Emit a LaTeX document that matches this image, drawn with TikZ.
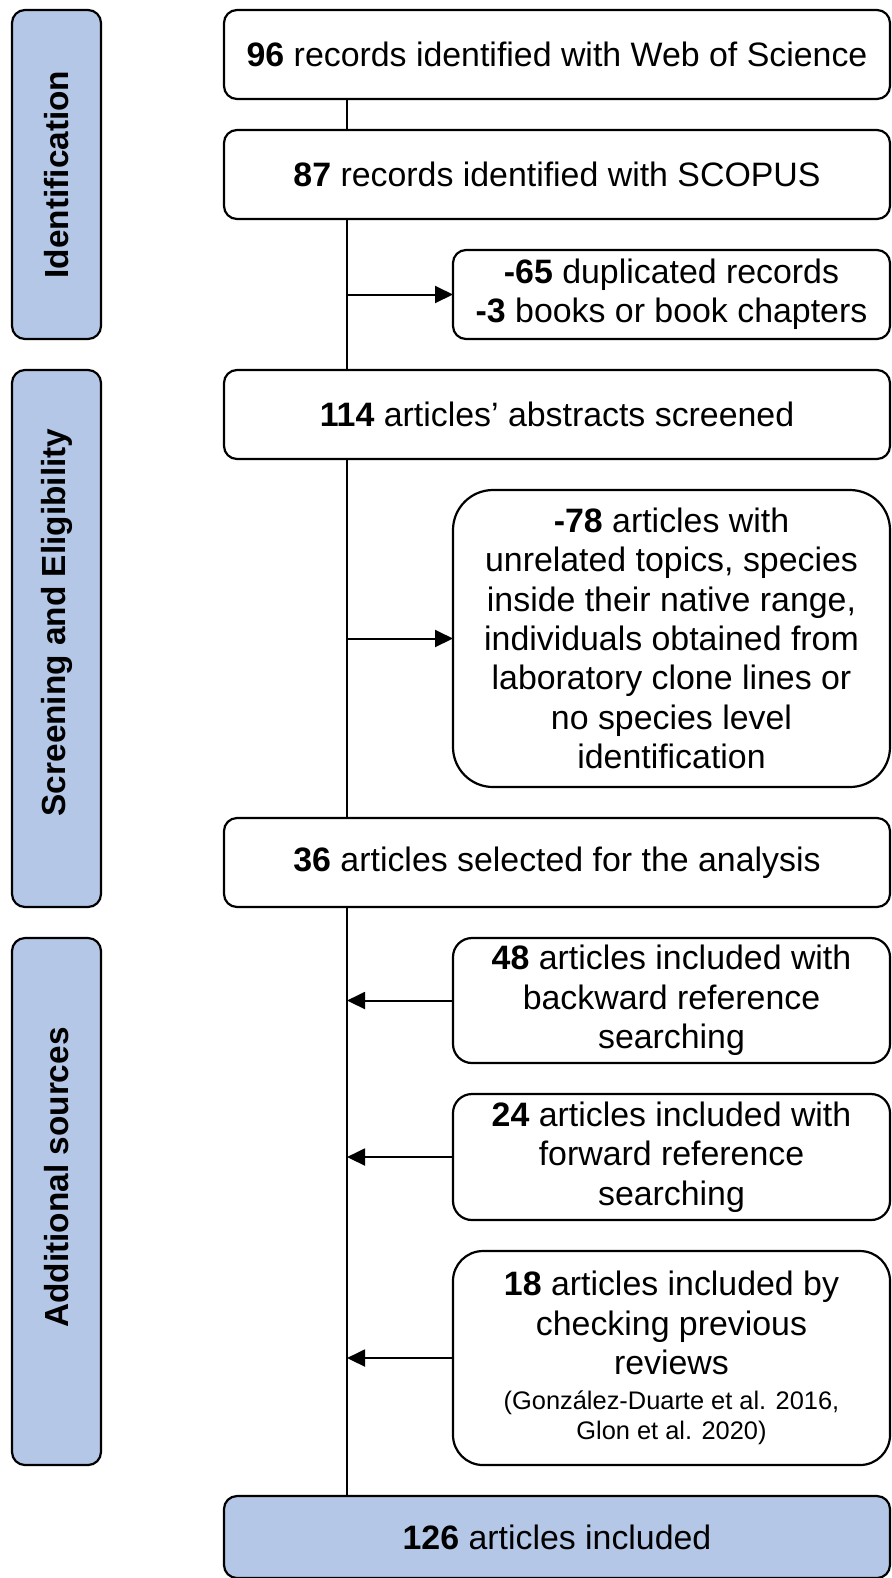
\documentclass[tikz,border=0pt]{standalone}
\usepackage{fontspec}
\setmainfont{Liberation Sans}
\usetikzlibrary{arrows.meta,positioning,fit}
\definecolor{phaseblue}{RGB}{180,199,231}

\begin{document}
\begin{tikzpicture}[
		x=1bp, y=-1bp,
		node distance=31bp and 0bp,
		font=\fontsize{34}{39.5}\selectfont,
		block/.style={rectangle, draw, fill=white, align=center, rounded corners=13bp, line width=2.2bp, minimum width=666bp, minimum height=89bp, inner sep=0pt, outer sep=0pt, anchor=north east},
		note/.style={block, minimum width=437bp},
		phase/.style={rectangle, draw, fill=phaseblue, rounded corners=13bp, line width=2.2bp, inner sep=0pt},
		phaselabel/.style={rotate=90, font=\fontsize{33.5}{39}\selectfont\bfseries},
		line/.style={draw, line width=2bp},
		arrow/.style={line, -{Triangle[length=18bp, width=17bp]}}
	]
	\useasboundingbox (0,0) rectangle (891,1578);

	% Boxes stacked from the top, all aligned on the right
	\node (wos) [block] at (890,10) {\textbf{96} records identified with Web of Science};
	\node (scopus) [block, below left=of wos.south east] {\textbf{87} records identified with SCOPUS};
	\node (dupl) [note, below left=of scopus.south east] {\textbf{-65} duplicated records\\\textbf{-3} books or book chapters};
	\node (screened) [block, below left=of dupl.south east] {\textbf{114} articles’ abstracts screened};
	\node (unrel) [note, below left=of screened.south east, minimum height=297bp, rounded corners=40bp] {\textbf{-78} articles with\\unrelated topics, species\\inside their native range,\\individuals obtained from\\laboratory clone lines or\\no species level\\identification};
	\node (selected) [block, below left=of unrel.south east] {\textbf{36} articles selected for the analysis};
	\node (backward) [note, below left=of selected.south east, minimum height=125bp, rounded corners=19bp] {\textbf{48} articles included with\\backward reference\\searching};
	\node (forward) [note, below left=of backward.south east, minimum height=126bp, rounded corners=19bp] {\textbf{24} articles included with\\forward reference\\searching};
	\node (reviews) [note, below left=of forward.south east, minimum height=214bp, rounded corners=30bp] {\textbf{18} articles included by\\checking previous\\reviews\\[-4.5bp]{\fontsize{25.5}{30}\selectfont(González-Duarte et al. 2016,}\\[-9.5bp]{\fontsize{25.5}{30}\selectfont Glon et al. 2020)}};
	\node (included) [block, below left=of reviews.south east, minimum height=82bp, fill=phaseblue] {\textbf{126} articles included};

	% Phase boxes on the left
	\coordinate (pl) at (12,0);
	\coordinate (pr) at (101,0);
	\node (ident) [phase, fit=(pl |- wos.north) (pr |- dupl.south)] {};
	\node (screen) [phase, fit=(pl |- screened.north) (pr |- selected.south)] {};
	\node (addit) [phase, fit=(pl |- backward.north) (pr |- reviews.south)] {};
	\node [phaselabel] at (ident) {Identification};
	\node [phaselabel] at ([yshift=16bp]screen.center) {Screening and Eligibility};
	\node [phaselabel] at ([yshift=24bp]addit.center) {Additional sources};

	% Lines
	\coordinate (spine) at (347,0);
	\draw [line] (wos.south -| spine) -- (scopus.north -| spine);
	\draw [line] (scopus.south -| spine) -- (screened.north -| spine);
	\draw [line] (screened.south -| spine) -- (selected.north -| spine);
	\draw [line] (selected.south -| spine) -- (included.north -| spine);
	\draw [arrow] (dupl.west -| spine) -- (dupl.west);
	\draw [arrow] (unrel.west -| spine) -- (unrel.west);
	\draw [arrow] (backward.west) -- (backward.west -| spine);
	\draw [arrow] (forward.west) -- (forward.west -| spine);
	\draw [arrow] (reviews.west) -- (reviews.west -| spine);
\end{tikzpicture}
\end{document}
